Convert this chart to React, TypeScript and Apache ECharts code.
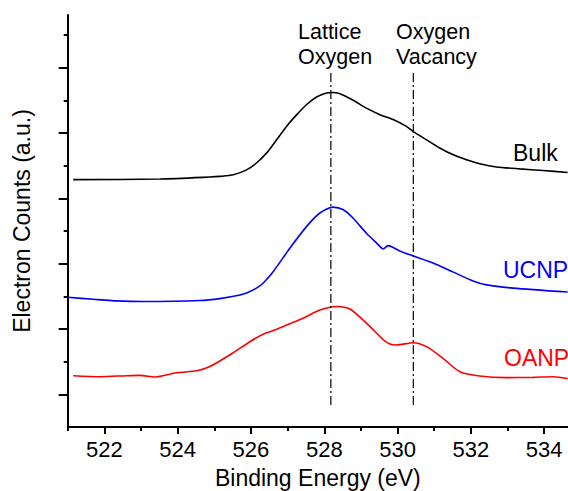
import React, { useEffect, useRef } from "react";
import * as echarts from "echarts";

// ---- data ----
const energyBulk = [521.15, 523.52, 524.88, 525.15, 525.52, 525.88, 526.15, 526.43, 526.7, 526.97, 527.25, 527.52, 527.79, 528.06, 528.2, 528.43, 528.79, 529.15, 529.52, 529.88, 530.24, 530.42, 530.79, 531.15, 531.52, 531.88, 532.24, 532.7, 533.33, 533.97, 534.64];
const countsBulk = [7.57, 7.59, 7.65, 7.67, 7.72, 7.87, 8.08, 8.39, 8.79, 9.2, 9.56, 9.87, 10.1, 10.22, 10.24, 10.2, 10.0, 9.76, 9.56, 9.41, 9.2, 9.05, 8.79, 8.54, 8.33, 8.18, 8.06, 7.96, 7.9, 7.85, 7.79];

const energyUcnp = [521.0, 521.7, 522.34, 523.06, 524.61, 525.15, 525.7, 525.88, 526.15, 526.33, 526.61, 527.06, 527.52, 527.88, 528.24, 528.52, 528.79, 529.15, 529.43, 529.61, 529.74, 530.06, 530.42, 530.97, 531.52, 532.06, 532.43, 533.15, 534.64];
const countsUcnp = [3.97, 3.91, 3.86, 3.84, 3.87, 3.93, 4.04, 4.1, 4.25, 4.4, 4.76, 5.47, 6.14, 6.55, 6.73, 6.65, 6.39, 5.93, 5.63, 5.45, 5.55, 5.39, 5.24, 5.02, 4.74, 4.47, 4.35, 4.25, 4.13];

const energyOanp = [521.15, 521.88, 522.61, 522.97, 523.38, 523.97, 524.52, 524.88, 525.43, 525.97, 526.33, 526.7, 527.06, 527.42, 527.88, 528.34, 528.7, 529.15, 529.61, 529.79, 529.97, 530.42, 530.79, 531.24, 531.7, 532.24, 532.97, 533.7, 534.24, 534.64];
const countsOanp = [1.57, 1.54, 1.57, 1.58, 1.53, 1.66, 1.72, 1.85, 2.21, 2.61, 2.84, 2.99, 3.16, 3.33, 3.58, 3.69, 3.61, 3.18, 2.67, 2.54, 2.51, 2.58, 2.46, 2.1, 1.69, 1.56, 1.51, 1.52, 1.54, 1.48];

const peakPositions = [528.18, 530.43];
const peakLineSpan = [0.67, 10.88];
const peakNames = [["Lattice", "Oxygen"], ["Oxygen", "Vacancy"]];
const sampleNames = ["Bulk", "UCNP", "OANP"];

const xMajorTicks = [522, 524, 526, 528, 530, 532, 534];
const xMinorTicks = [521, 523, 525, 527, 529, 531, 533];
const yMajorTicks = [1, 3, 5, 7, 9, 11];
const yMinorTicks = [2, 4, 6, 8, 10, 12];

const X_MIN = 521;
const X_MAX = 534.65;
const Y_MIN = 0;
const Y_MAX = 12.61;

const FONT = "'Liberation Sans', Arial, sans-serif";

const zip = (xs: number[], ys: number[]) => xs.map((x, i) => [x, ys[i]]);

export default function App() {
  const ref = useRef<HTMLDivElement>(null);
  useEffect(() => {
    if (!ref.current) return;
    const chart = echarts.init(ref.current, undefined, { renderer: "svg" });
    const axisBase = {
      type: "value" as const,
      min: X_MIN,
      max: X_MAX,
      splitLine: { show: false },
    };
    const yBase = {
      type: "value" as const,
      min: Y_MIN,
      max: Y_MAX,
      splitLine: { show: false },
    };
    const colors = ["#000000", "#0000ff", "#ff0000"];
    const dataSets = [
      zip(energyBulk, countsBulk),
      zip(energyUcnp, countsUcnp),
      zip(energyOanp, countsOanp),
    ];
    const labelPos = [
      { x: 513, y: 153.4 },
      { x: 503, y: 269.7 },
      { x: 504, y: 358 },
    ];
    const annotPos = [
      { x: 298, y: [32, 57] },
      { x: 396, y: [32, 57] },
    ];
    const graphics: any[] = [];
    sampleNames.forEach((n, i) => {
      graphics.push({
        type: "text",
        x: labelPos[i].x,
        y: labelPos[i].y,
        style: {
          text: n,
          fill: colors[i],
          font: `23px ${FONT}`,
          textAlign: "left",
          textVerticalAlign: "middle",
        },
      });
    });
    peakNames.forEach((lines, i) => {
      lines.forEach((t, j) => {
        graphics.push({
          type: "text",
          x: annotPos[i].x,
          y: annotPos[i].y[j],
          style: {
            text: t,
            fill: "#000",
            font: `21.5px ${FONT}`,
            textAlign: "left",
            textVerticalAlign: "middle",
          },
        });
      });
    });

    chart.setOption({
      animation: false,
      backgroundColor: "#ffffff",
      grid: { left: 67.7, right: 0, top: 15, bottom: 64, containLabel: false, outerBoundsMode: "none" },
      xAxis: [
        {
          ...axisBase,
          position: "bottom",
          name: "Binding Energy (eV)",
          nameLocation: "middle",
          nameGap: 39,
          nameTextStyle: { fontSize: 23, fontFamily: FONT, color: "#000" },
          axisLine: { show: true, onZero: false, lineStyle: { color: "#000", width: 2 } },
          axisTick: { show: true, length: 7, customValues: xMajorTicks, lineStyle: { color: "#000", width: 2 } },
          axisLabel: { show: true, customValues: xMajorTicks, margin: 11, fontSize: 22, fontFamily: FONT, color: "#000" },
        },
        {
          ...axisBase,
          position: "bottom",
          axisLine: { show: false, onZero: false },
          axisTick: { show: true, length: 4, customValues: xMinorTicks, lineStyle: { color: "#000", width: 2 } },
          axisLabel: { show: false },
        },
      ],
      yAxis: [
        {
          ...yBase,
          position: "left",
          name: "Electron Counts (a.u.)",
          nameLocation: "middle",
          nameGap: 34,
          nameTextStyle: { fontSize: 23, fontFamily: FONT, color: "#000" },
          axisLine: { show: true, onZero: false, lineStyle: { color: "#000", width: 2 } },
          axisTick: { show: true, length: 9, customValues: yMajorTicks, lineStyle: { color: "#000", width: 2 } },
          axisLabel: { show: false },
        },
        {
          ...yBase,
          position: "left",
          axisLine: { show: false, onZero: false },
          axisTick: { show: true, length: 4, customValues: yMinorTicks, lineStyle: { color: "#000", width: 2 } },
          axisLabel: { show: false },
        },
      ],
      graphic: graphics,
      series: [
        ...dataSets.map((d, i) => ({
          type: "line",
          name: sampleNames[i],
          data: d,
          xAxisIndex: 0,
          yAxisIndex: 0,
          showSymbol: false,
          symbol: "none",
          smooth: 0.25,
          lineStyle: { color: colors[i], width: 1.6 },
          z: 3,
        })),
        ...peakPositions.map((p) => ({
          type: "line",
          data: [
            [p, peakLineSpan[0]],
            [p, peakLineSpan[1]],
          ],
          xAxisIndex: 0,
          yAxisIndex: 0,
          showSymbol: false,
          symbol: "none",
          lineStyle: { color: "#000", width: 1.2, type: [9, 3, 2, 3] },
          z: 4,
        })),
      ],
    });
    return () => chart.dispose();
  }, []);
  return (
    <div
      ref={ref}
      style={{ position: "fixed", left: 0, top: 0, width: 568, height: 491, background: "#fff" }}
    />
  );
}
